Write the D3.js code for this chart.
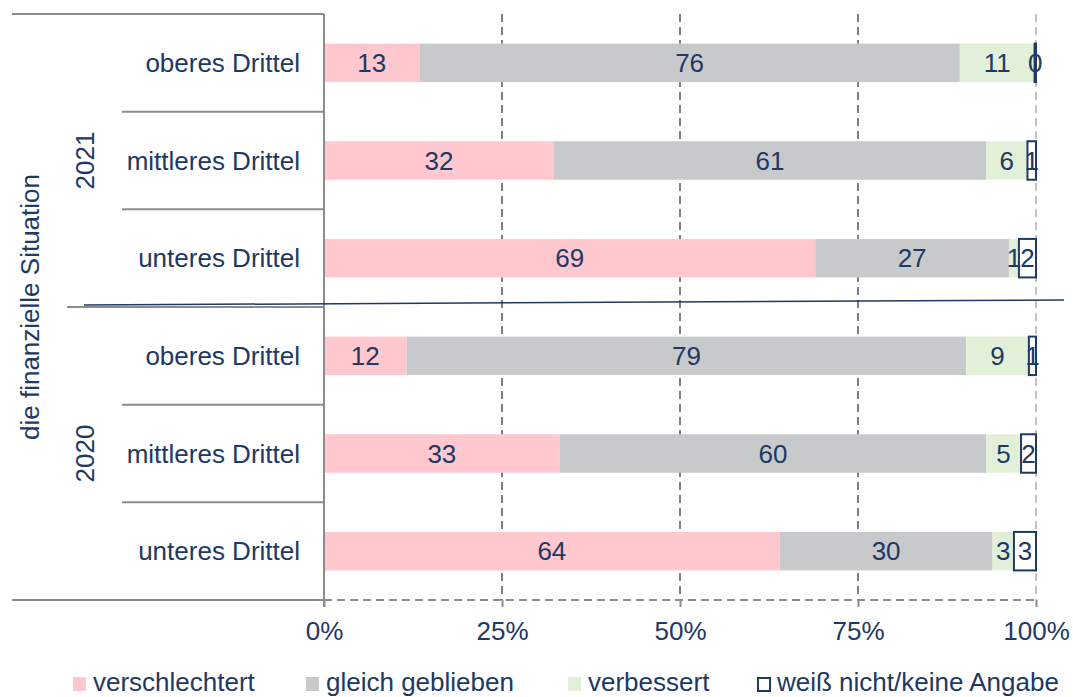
<!DOCTYPE html>
<html>
<head>
<meta charset="utf-8">
<script src="https://cdn.jsdelivr.net/npm/d3@7"></script>
<style>
  body { margin: 0; background: #fff; }
  svg { display: block; font-family: "Liberation Sans", Arial, sans-serif; }
</style>
</head>
<body>
<svg id="chart" width="1073" height="697"></svg>
<script>
// rows top to bottom
var years = ['2021', '2021', '2021', '2020', '2020', '2020'];
var groups = ['oberes Drittel', 'mittleres Drittel', 'unteres Drittel',
              'oberes Drittel', 'mittleres Drittel', 'unteres Drittel'];
var seriesNames = ['verschlechtert', 'gleich geblieben', 'verbessert', 'weiß nicht/keine Angabe'];

// shares in percent
var verschlechtert = [13.4, 32.3, 69.0, 11.6, 33.1, 64.0];
var gleich = [75.9, 60.7, 27.2, 78.6, 59.9, 29.9];
var verbessert = [10.5, 5.8, 1.4, 8.8, 4.9, 3.0];
var weissNicht = [0.2, 1.2, 2.4, 1.0, 2.1, 3.1];

var xTicks = [0, 0.25, 0.5, 0.75, 1];
var outerLabel = 'die finanzielle Situation';

var ink = '#203864';
var colors = ['#ffc7ce', '#c8c9cb', '#e2f0d9', '#ffffff'];
var fs = 26;

var svg = d3.select('#chart');

var x = d3.scaleLinear().domain([0, 100]).range([324, 1036]);
var rowIds = d3.range(years.length);
var y = d3.scaleBand().domain(rowIds).range([14, 600])
  .paddingInner(0.606).paddingOuter(0.303);
var step = y.step();

var rows = rowIds.map(function(i) {
  return [verschlechtert[i], gleich[i], verbessert[i], weissNicht[i]];
});

// gridlines
svg.append('g').selectAll('line')
  .data(xTicks.slice(1))
  .enter().append('line')
  .attr('x1', function(d) { return x(d * 100); })
  .attr('x2', function(d) { return x(d * 100); })
  .attr('y1', 14).attr('y2', 600)
  .attr('stroke', function(d) { return d === 1 ? '#c4c4c4' : '#7f7f7f'; })
  .attr('stroke-width', 2)
  .attr('stroke-dasharray', '8,5');

// bars
var segs = [];
rows.forEach(function(vals, i) {
  var acc = 0;
  vals.forEach(function(v, k) {
    segs.push({ row: i, k: k, x0: acc, x1: acc + v, v: v });
    acc += v;
  });
});

svg.append('g').selectAll('rect')
  .data(segs)
  .enter().append('rect')
  .attr('x', function(d) { return x(d.x0); })
  .attr('y', function(d) { return y(d.row); })
  .attr('width', function(d) { return x(d.x1) - x(d.x0); })
  .attr('height', y.bandwidth())
  .attr('fill', function(d) { return colors[d.k]; })
  .attr('stroke', function(d) { return d.k === 3 ? ink : 'none'; })
  .attr('stroke-width', 2);

svg.append('g').selectAll('text')
  .data(segs)
  .enter().append('text')
  .attr('x', function(d) { return (x(d.x0) + x(d.x1)) / 2; })
  .attr('y', function(d) { return y(d.row) + y.bandwidth() / 2 + fs * 0.35; })
  .attr('text-anchor', 'middle')
  .attr('font-size', fs)
  .attr('fill', ink)
  .text(function(d) { return Math.round(d.v); });

// x axis
var xAxis = d3.axisBottom(d3.scaleLinear().domain([0, 1]).range([324, 1036]))
  .tickValues(xTicks)
  .tickFormat(d3.format('.0%'))
  .tickSize(7)
  .tickPadding(15);
var gx = svg.append('g').attr('transform', 'translate(0,600)').call(xAxis);
gx.select('.domain')
  .attr('stroke', '#8c8c8c').attr('stroke-width', 2)
  .attr('stroke-dasharray', '8,5')
  .attr('d', 'M324,0H1036');
gx.selectAll('.tick line').attr('stroke', '#8c8c8c').attr('stroke-width', 2);
gx.selectAll('.tick text')
  .attr('font-size', fs)
  .attr('font-family', '"Liberation Sans", Arial, sans-serif')
  .attr('fill', ink);

// category axis (hierarchical)
var grey = '#8c8c8c';
var axisG = svg.append('g').attr('stroke', grey).attr('stroke-width', 2);
axisG.append('line').attr('x1', 324).attr('x2', 324).attr('y1', 14).attr('y2', 607);
var bounds = d3.range(years.length + 1).map(function(i) {
  return { y: 14 + i * step, i: i };
});
axisG.selectAll('line.sep')
  .data(bounds)
  .enter().append('line')
  .attr('class', 'sep')
  .attr('y1', function(d) { return d.y; })
  .attr('y2', function(d) { return d.y; })
  .attr('x2', 324)
  .attr('x1', function(d) {
    if (d.i === 0 || d.i === years.length) return 12;
    if (years[d.i] !== years[d.i - 1]) return 67;
    return 122;
  });

svg.append('g').selectAll('text')
  .data(rowIds)
  .enter().append('text')
  .attr('x', 300)
  .attr('y', function(i) { return y(i) + y.bandwidth() / 2 + fs * 0.35; })
  .attr('text-anchor', 'end')
  .attr('font-size', fs)
  .attr('fill', ink)
  .text(function(i) { return groups[i]; });

var yearList = Array.from(new Set(years));
svg.append('g').selectAll('text')
  .data(yearList)
  .enter().append('text')
  .attr('transform', function(yr) {
    var idx = rowIds.filter(function(i) { return years[i] === yr; });
    var cy = d3.mean(idx, function(i) { return y(i) + y.bandwidth() / 2; });
    return 'translate(94,' + cy + ') rotate(-90)';
  })
  .attr('text-anchor', 'middle')
  .attr('font-size', fs)
  .attr('fill', ink)
  .text(function(d) { return d; });

svg.append('text')
  .attr('transform', 'translate(39,' + (14 + 600) / 2 + ') rotate(-90)')
  .attr('text-anchor', 'middle')
  .attr('font-size', fs)
  .attr('fill', ink)
  .text(outerLabel);

// line between the years
var splitY = 14 + 3 * step;
svg.append('line')
  .attr('x1', 84).attr('y1', splitY - 2)
  .attr('x2', 1064).attr('y2', splitY - 7)
  .attr('stroke', ink).attr('stroke-width', 1.5);

// legend
var legendX = [73, 306, 568, 757];
var leg = svg.append('g').selectAll('g')
  .data(seriesNames)
  .enter().append('g')
  .attr('transform', function(d, i) { return 'translate(' + legendX[i] + ',677)'; });
leg.append('rect')
  .attr('x', function(d, i) { return i === 3 ? 1 : 0; })
  .attr('y', function(d, i) { return i === 3 ? 1 : 0; })
  .attr('width', function(d, i) { return i === 3 ? 12 : 13; })
  .attr('height', function(d, i) { return i === 3 ? 13 : 14; })
  .attr('fill', function(d, i) { return colors[i]; })
  .attr('stroke', function(d, i) { return i === 3 ? ink : 'none'; })
  .attr('stroke-width', 2);
leg.append('text')
  .attr('x', 20)
  .attr('y', 14)
  .attr('font-size', fs)
  .attr('fill', ink)
  .text(function(d) { return d; });
</script>
</body>
</html>
